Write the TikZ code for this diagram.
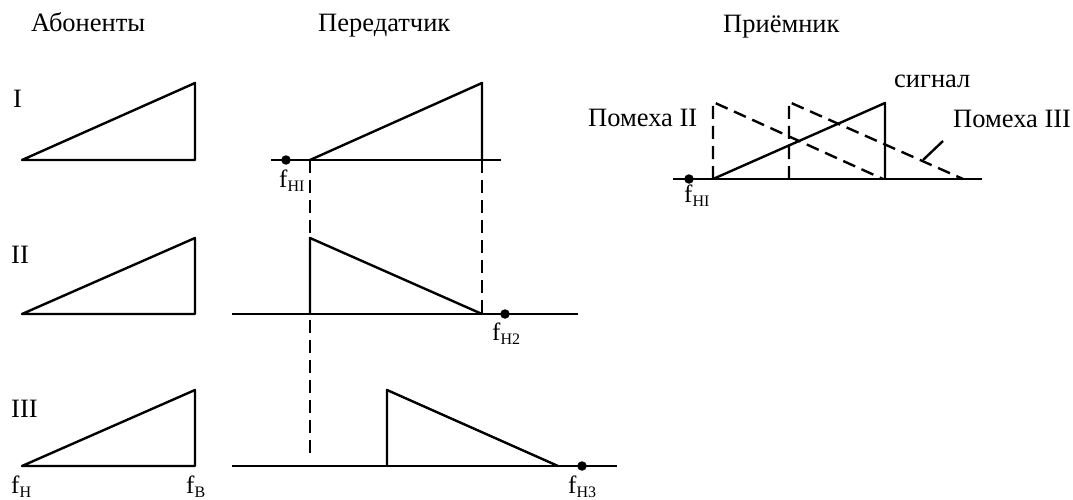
\documentclass[tikz,border=0pt]{standalone}
\usepackage{fontspec}
\setmainfont{Liberation Serif}
\newcommand{\fsub}[1]{f\raisebox{-4pt}{\fontsize{16}{16}\selectfont #1}}
\begin{document}
\begin{tikzpicture}[x=1pt,y=-1pt, line width=2.4pt, line join=round,
  lbl/.style={inner sep=0pt, anchor=base west, font=\fontsize{26.5}{30}\selectfont},
  flbl/.style={inner sep=0pt, anchor=base west, font=\fontsize{25}{28}\selectfont},
  dsh/.style={dash pattern=on 13pt off 7pt},
  pt/.style={fill=black, circle, inner sep=0pt, minimum size=9.5pt}
]
\useasboundingbox (0,0) rectangle (1073,500);

% titles
\node[lbl] (tA) at (30,32) {Абоненты};
\node[lbl] (tP) at (317,32) {Передатчик};
\node[lbl] (tR) at (722,33) {Приёмник};

% row labels
\node[lbl] (r1) at (12,108) {I};
\node[lbl] (r2) at (10,263) {II};
\node[lbl] (r3) at (10,417) {III};

% subscriber spectra
\draw (22,160) -- (195,160) -- (195,83) -- cycle;
\draw (22,314) -- (195,314) -- (195,238) -- cycle;
\draw (22,466) -- (195,466) -- (195,390) -- cycle;
\node[flbl] (fn) at (10,493) {\fsub{Н}};
\node[flbl] (fv) at (185,493) {\fsub{В}};

% transmitter row I
\draw (271,160) -- (501,160);
\draw (310,160) -- (482,83) -- (482,160);
\node[pt] (d1) at (286,160) {};
\node[flbl] (f1) at (278,187) {\fsub{НI}};

% dashed guides
\draw[dsh] (310,160) -- (310,460);
\draw[dsh] (482,160) -- (482,314);

% transmitter row II
\draw (232,314) -- (578,314);
\draw (310,314) -- (310,238) -- (482,314);
\node[pt] (d2) at (505,314) {};
\node[flbl] (f2) at (491,340) {\fsub{Н2}};

% transmitter row III
\draw (232,466) -- (617,466);
\draw (387,466) -- (387,390) -- (558,466);
\node[pt] (d3) at (582,466) {};
\node[flbl] (f3) at (567,493) {\fsub{Н3}};

% receiver
\draw (673,179) -- (982,179);
\draw (713,179) -- (885,103) -- (885,179);
\draw[dsh] (713,179) -- (713,102) -- (883,179);
\draw[dsh] (789,179) -- (789,102) -- (963,179);
\node[pt] (d4) at (689,179) {};
\node[flbl] (f4) at (683,202) {\fsub{НI}};
\node[lbl] (sig) at (893,88) {сигнал};
\node[lbl] (p2) at (587,127) {Помеха II};
\node[lbl] (p3) at (952,128) {Помеха III};
\coordinate (lead) at (923,160);
\draw (943,141) -- (lead);
\end{tikzpicture}
\end{document}
